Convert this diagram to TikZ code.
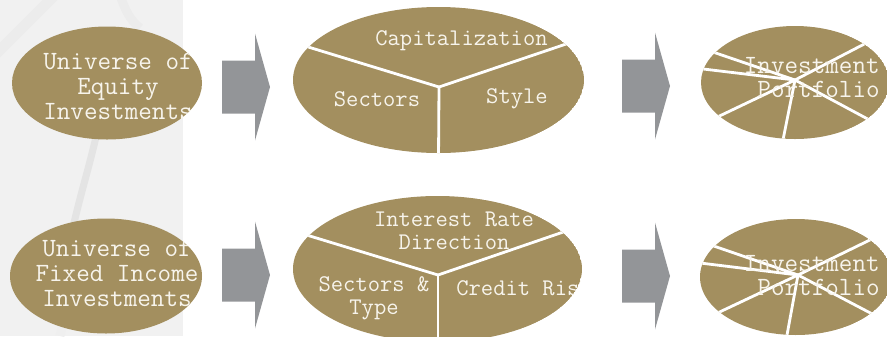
\documentclass[tikz,border=0pt]{standalone}
\usepackage{xcolor}
\usepackage{tikz}
\definecolor{pieGold}{HTML}{A38F5F}
\definecolor{pieText}{HTML}{F7F4EC}
\definecolor{flowGrey}{HTML}{939598}
\definecolor{paperGrey}{HTML}{F1F1F1}
\definecolor{ropeGrey}{HTML}{E4E4E4}
\usetikzlibrary{calc}

\begin{document}
\begin{tikzpicture}[
  x=0.02cm, y=-0.02cm,
  pie/.style={fill=pieGold},
  slice/.style={draw=white, line width=1.6pt},
  flow/.style={fill=flowGrey},
  bigtext/.style={text=pieText, font=\ttfamily\fontsize{15}{14.2}\selectfont, align=center, inner sep=0pt},
  midtext/.style={text=pieText, font=\ttfamily\fontsize{13.6}{12.9}\selectfont, align=center, inner sep=0pt}
]
\useasboundingbox (0,0) rectangle (887,336);
\clip (0,0) rectangle (887,336);

% Paper strip on the left
\fill[paperGrey] (0,0) rectangle (183,336);
\draw[ropeGrey, line width=4pt] (98,128) .. controls (90,165) and (80,195) .. (72,232);
\draw[ropeGrey!70, line width=6pt] (-5,55) .. controls (20,30) and (40,10) .. (55,-5);
\draw[ropeGrey!70, line width=5pt] (120,-5) .. controls (125,10) and (130,20) .. (140,28);
\draw[ropeGrey!60, line width=5pt] (60,336) .. controls (64,320) and (66,310) .. (68,300);

% Universe ellipses
\coordinate (eqU) at (107,83);
\coordinate (fiU) at (106,276);
\fill[pie] (eqU) ellipse (95 and 56.5);
\fill[pie] (fiU) ellipse (96 and 57.5);
\begin{scope}
  \clip (eqU) ellipse (95 and 56.5);
  \node[bigtext] (eqLabel) at (118,86) {Universe of\\Equity\\Investments};
\end{scope}
\begin{scope}
  \clip (fiU) ellipse (96 and 57.5);
  \node[bigtext] (fiLabel) at (117,273) {Universe of\\Fixed Income\\Investments};
\end{scope}

% Block arrows
\foreach \ax/\ay [count=\i] in {222/87, 222/275, 622/86, 622/276}
  \fill[flow] (\ax,\ay-26.5) -- (\ax+33,\ay-26.5) -- (\ax+33,\ay-53.5) -- (\ax+48,\ay)
    -- (\ax+33,\ay+53.5) -- (\ax+33,\ay+26.5) -- (\ax,\ay+26.5) -- cycle;

% Equity criteria pie
\coordinate (eqMid) at (438.5,80);
\coordinate (eqHub) at (439,87);
\begin{scope}
  \clip (eqMid) ellipse (145.5 and 73);
  \fill[pie] (eqMid) ellipse (145.5 and 73);
  \draw[slice] (eqHub) -- (305,46);
  \draw[slice] (eqHub) -- (572,42);
  \draw[slice] (eqHub) -- (438.5,160);
  \node[midtext] (capLabel) at (461.5,41) {Capitalization};
  \node[midtext] (secLabel) at (377,99) {Sectors};
  \node[midtext] (styLabel) at (517,99) {Style};
\end{scope}

% Fixed income criteria pie
\coordinate (fiMid) at (437.5,269);
\coordinate (fiHub) at (438,275);
\begin{scope}
  \clip (fiMid) ellipse (144.5 and 73);
  \fill[pie] (fiMid) ellipse (144.5 and 73);
  \draw[slice] (fiHub) -- (300,233);
  \draw[slice] (fiHub) -- (572,229);
  \draw[slice] (fiHub) -- (438,350);
  \node[midtext] (rateLabel) at (454,231) {Interest Rate\\Direction};
  \node[midtext] (typeLabel) at (374,298.5) {Sectors \&\\Type};
  \node[midtext, anchor=west] (riskLabel) at (456,288) {Credit Risk};
\end{scope}

% Portfolio pies
\coordinate (eqPort) at (795,82.5);
\coordinate (eqPortHub) at (795,80);
\begin{scope}
  \clip (eqPort) ellipse (94 and 56.5);
  \fill[pie] (eqPort) ellipse (94 and 56.5);
  \foreach \ex/\ey in {872/40, 707/50, 695/68, 709/121, 781/150, 877/124}
    \draw[slice] (eqPortHub) -- (\ex,\ey);
  \node[bigtext, align=right, anchor=east] (eqPortLabel) at (880,77.5) {Investment\\Portfolio};
\end{scope}

\coordinate (fiPort) at (796,277);
\coordinate (fiPortHub) at (798,275);
\begin{scope}
  \clip (fiPort) ellipse (96 and 58);
  \fill[pie] (fiPort) ellipse (96 and 58);
  \foreach \ex/\ey in {876/237, 705/243, 692/262, 709/317, 785/346, 878/317}
    \draw[slice] (fiPortHub) -- (\ex,\ey);
  \node[bigtext, align=right, anchor=east] (fiPortLabel) at (880,275.5) {Investment\\Portfolio};
\end{scope}

\end{tikzpicture}
\end{document}
